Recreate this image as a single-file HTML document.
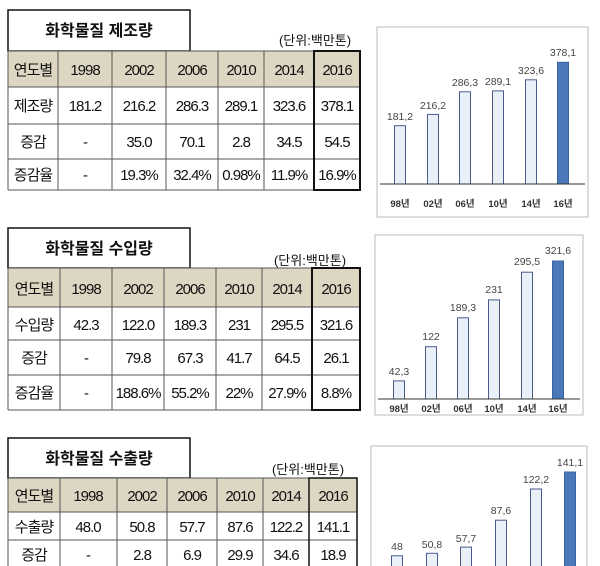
<!DOCTYPE html>
<html><head><meta charset="utf-8"><style>
html,body{margin:0;padding:0;background:#fff;width:600px;height:566px;overflow:hidden}
svg{display:block}
.t{font-family:"Liberation Sans","Noto Sans CJK KR",sans-serif;font-size:15px;fill:#111;text-anchor:middle;letter-spacing:-1px}
.h{font-family:"Liberation Sans","Noto Sans CJK KR",sans-serif;font-size:16px;font-weight:bold;fill:#111;text-anchor:middle}
.u{font-family:"Liberation Sans","Noto Sans CJK KR",sans-serif;font-size:13px;fill:#111;text-anchor:middle}
.v{font-family:"Liberation Sans","Noto Sans CJK KR",sans-serif;font-size:10.5px;fill:#444;text-anchor:middle}
.x{font-family:"Liberation Sans","Noto Sans CJK KR",sans-serif;font-size:9.5px;font-weight:bold;fill:#333;text-anchor:middle}
.g{stroke:#555;stroke-width:1;fill:none}
.b{fill:#eaf0f8;stroke:#4a5a8a;stroke-width:1}
.d{fill:#4a78b8;stroke:#3a64a0;stroke-width:1}
</style></head><body>
<svg width="600" height="566" viewBox="0 0 600 566" xmlns="http://www.w3.org/2000/svg">
<defs><pattern id="p" width="3" height="3" patternUnits="userSpaceOnUse"><rect width="3" height="3" fill="#eef3fa"/><rect width="1" height="1" fill="#b8c6de"/></pattern></defs>

<!-- TABLE 1 -->
<rect x="8" y="10" width="182" height="41" fill="#fff" stroke="#111" stroke-width="1.5"/>
<text class="h" x="99" y="36">화학물질  제조량</text>
<text class="u" x="315" y="45">(단위:백만톤)</text>
<rect x="8" y="51" width="352" height="36" fill="#ddd6c2"/>
<g class="g">
<line x1="8" y1="51" x2="360" y2="51"/><line x1="8" y1="87" x2="360" y2="87"/><line x1="8" y1="124" x2="360" y2="124"/><line x1="8" y1="159" x2="360" y2="159"/><line x1="8" y1="190" x2="360" y2="190"/>
<line x1="8" y1="51" x2="8" y2="190"/><line x1="58" y1="51" x2="58" y2="190"/><line x1="112" y1="51" x2="112" y2="190"/><line x1="166" y1="51" x2="166" y2="190"/><line x1="218" y1="51" x2="218" y2="190"/><line x1="264" y1="51" x2="264" y2="190"/>
</g>
<rect x="314" y="51" width="46" height="139" fill="none" stroke="#111" stroke-width="2"/>
<text class="t" y="75"><tspan x="33">연도별</tspan><tspan x="85">1998</tspan><tspan x="139">2002</tspan><tspan x="192">2006</tspan><tspan x="241">2010</tspan><tspan x="289">2014</tspan><tspan x="337">2016</tspan></text>
<text class="t" y="111"><tspan x="33">제조량</tspan><tspan x="85">181.2</tspan><tspan x="139">216.2</tspan><tspan x="192">286.3</tspan><tspan x="241">289.1</tspan><tspan x="289">323.6</tspan><tspan x="337">378.1</tspan></text>
<text class="t" y="147"><tspan x="33">증감</tspan><tspan x="85">-</tspan><tspan x="139">35.0</tspan><tspan x="192">70.1</tspan><tspan x="241">2.8</tspan><tspan x="289">34.5</tspan><tspan x="337">54.5</tspan></text>
<text class="t" y="180"><tspan x="33">증감율</tspan><tspan x="85">-</tspan><tspan x="139">19.3%</tspan><tspan x="192">32.4%</tspan><tspan x="241">0.98%</tspan><tspan x="289">11.9%</tspan><tspan x="337">16.9%</tspan></text>

<!-- CHART 1 -->
<rect x="377" y="27" width="211" height="190" fill="#fff" stroke="#bbb" stroke-width="1"/>
<rect class="b" fill="url(#p)" x="394.5" y="125.7" width="11" height="58.3"/>
<rect class="b" fill="url(#p)" x="427.5" y="114.4" width="11" height="69.6"/>
<rect class="b" fill="url(#p)" x="459.5" y="91.8" width="11" height="92.2"/>
<rect class="b" fill="url(#p)" x="492.5" y="90.9" width="11" height="93.1"/>
<rect class="b" fill="url(#p)" x="525.5" y="79.8" width="11" height="104.2"/>
<rect class="d" x="557.5" y="62.3" width="11" height="121.7"/>
<line x1="380" y1="184" x2="585" y2="184" stroke="#333" stroke-width="1"/>
<text class="v" x="400" y="120">181,2</text><text class="v" x="433" y="109">216,2</text><text class="v" x="465" y="86">286,3</text><text class="v" x="498" y="85">289,1</text><text class="v" x="531" y="74">323,6</text><text class="v" x="563" y="56">378,1</text>
<text class="x" y="207"><tspan x="400">98년</tspan><tspan x="433">02년</tspan><tspan x="465">06년</tspan><tspan x="498">10년</tspan><tspan x="531">14년</tspan><tspan x="563">16년</tspan></text>

<!-- TABLE 2 -->
<rect x="8" y="228" width="182" height="40" fill="#fff" stroke="#111" stroke-width="1.5"/>
<text class="h" x="99" y="254">화학물질  수입량</text>
<text class="u" x="310" y="265">(단위:백만톤)</text>
<rect x="8" y="268" width="352" height="39" fill="#ddd6c2"/>
<g class="g">
<line x1="8" y1="268" x2="360" y2="268"/><line x1="8" y1="307" x2="360" y2="307"/><line x1="8" y1="340" x2="360" y2="340"/><line x1="8" y1="375" x2="360" y2="375"/><line x1="8" y1="410" x2="360" y2="410"/>
<line x1="8" y1="268" x2="8" y2="410"/><line x1="60" y1="268" x2="60" y2="410"/><line x1="112" y1="268" x2="112" y2="410"/><line x1="164" y1="268" x2="164" y2="410"/><line x1="216" y1="268" x2="216" y2="410"/><line x1="262" y1="268" x2="262" y2="410"/>
</g>
<rect x="312" y="268" width="48" height="142" fill="none" stroke="#111" stroke-width="2"/>
<text class="t" y="294"><tspan x="34">연도별</tspan><tspan x="86">1998</tspan><tspan x="138">2002</tspan><tspan x="190">2006</tspan><tspan x="239">2010</tspan><tspan x="287">2014</tspan><tspan x="336">2016</tspan></text>
<text class="t" y="330"><tspan x="34">수입량</tspan><tspan x="86">42.3</tspan><tspan x="138">122.0</tspan><tspan x="190">189.3</tspan><tspan x="239">231</tspan><tspan x="287">295.5</tspan><tspan x="336">321.6</tspan></text>
<text class="t" y="363"><tspan x="34">증감</tspan><tspan x="86">-</tspan><tspan x="138">79.8</tspan><tspan x="190">67.3</tspan><tspan x="239">41.7</tspan><tspan x="287">64.5</tspan><tspan x="336">26.1</tspan></text>
<text class="t" y="398"><tspan x="34">증감율</tspan><tspan x="86">-</tspan><tspan x="138">188.6%</tspan><tspan x="190">55.2%</tspan><tspan x="239">22%</tspan><tspan x="287">27.9%</tspan><tspan x="336">8.8%</tspan></text>

<!-- CHART 2 -->
<rect x="375" y="235" width="208" height="180" fill="#fff" stroke="#bbb" stroke-width="1"/>
<rect class="b" fill="url(#p)" x="393.5" y="380.9" width="11" height="18.1"/>
<rect class="b" fill="url(#p)" x="425.5" y="346.7" width="11" height="52.3"/>
<rect class="b" fill="url(#p)" x="457.5" y="317.8" width="11" height="81.2"/>
<rect class="b" fill="url(#p)" x="488.5" y="299.9" width="11" height="99.1"/>
<rect class="b" fill="url(#p)" x="521.5" y="272.2" width="11" height="126.8"/>
<rect class="d" x="552.5" y="261" width="11" height="138"/>
<line x1="378" y1="399" x2="580" y2="399" stroke="#333" stroke-width="1"/>
<text class="v" x="399" y="375">42,3</text><text class="v" x="431" y="340">122</text><text class="v" x="463" y="311">189,3</text><text class="v" x="494" y="293">231</text><text class="v" x="527" y="265">295,5</text><text class="v" x="558" y="254">321,6</text>
<text class="x" y="412"><tspan x="399">98년</tspan><tspan x="431">02년</tspan><tspan x="463">06년</tspan><tspan x="494">10년</tspan><tspan x="527">14년</tspan><tspan x="558">16년</tspan></text>

<!-- TABLE 3 -->
<rect x="8" y="438" width="182" height="40" fill="#fff" stroke="#111" stroke-width="1.5"/>
<text class="h" x="99" y="464">화학물질  수출량</text>
<text class="u" x="308" y="474">(단위:백만톤)</text>
<rect x="8" y="478" width="349" height="34" fill="#ddd6c2"/>
<g class="g">
<line x1="8" y1="478" x2="357" y2="478"/><line x1="8" y1="512" x2="357" y2="512"/><line x1="8" y1="540" x2="357" y2="540"/>
<line x1="8" y1="478" x2="8" y2="566"/><line x1="60" y1="478" x2="60" y2="566"/><line x1="117" y1="478" x2="117" y2="566"/><line x1="167" y1="478" x2="167" y2="566"/><line x1="217" y1="478" x2="217" y2="566"/><line x1="263" y1="478" x2="263" y2="566"/><line x1="309" y1="478" x2="309" y2="566"/>
</g>
<rect x="309" y="478" width="48" height="95" fill="none" stroke="#111" stroke-width="1.5"/>
<text class="t" y="501"><tspan x="34">연도별</tspan><tspan x="88">1998</tspan><tspan x="142">2002</tspan><tspan x="192">2006</tspan><tspan x="240">2010</tspan><tspan x="286">2014</tspan><tspan x="333">2016</tspan></text>
<text class="t" y="532"><tspan x="34">수출량</tspan><tspan x="88">48.0</tspan><tspan x="142">50.8</tspan><tspan x="192">57.7</tspan><tspan x="240">87.6</tspan><tspan x="286">122.2</tspan><tspan x="333">141.1</tspan></text>
<text class="t" y="560"><tspan x="34">증감</tspan><tspan x="88">-</tspan><tspan x="142">2.8</tspan><tspan x="192">6.9</tspan><tspan x="240">29.9</tspan><tspan x="286">34.6</tspan><tspan x="333">18.9</tspan></text>

<!-- CHART 3 -->
<rect x="371" y="446" width="216" height="130" fill="#fff" stroke="#bbb" stroke-width="1"/>
<rect class="b" fill="url(#p)" x="391.5" y="555.8" width="11" height="20"/>
<rect class="b" fill="url(#p)" x="426.5" y="553.3" width="11" height="20"/>
<rect class="b" fill="url(#p)" x="460.5" y="547.1" width="11" height="25"/>
<rect class="b" fill="url(#p)" x="495.5" y="520.2" width="11" height="50"/>
<rect class="b" fill="url(#p)" x="530.5" y="489" width="11" height="80"/>
<rect class="d" x="564.5" y="472" width="11" height="100"/>
<text class="v" x="397" y="550">48</text><text class="v" x="432" y="548">50,8</text><text class="v" x="466" y="542">57,7</text><text class="v" x="501" y="514">87,6</text><text class="v" x="536" y="483">122,2</text><text class="v" x="570" y="466">141,1</text>
</svg>
</body></html>
